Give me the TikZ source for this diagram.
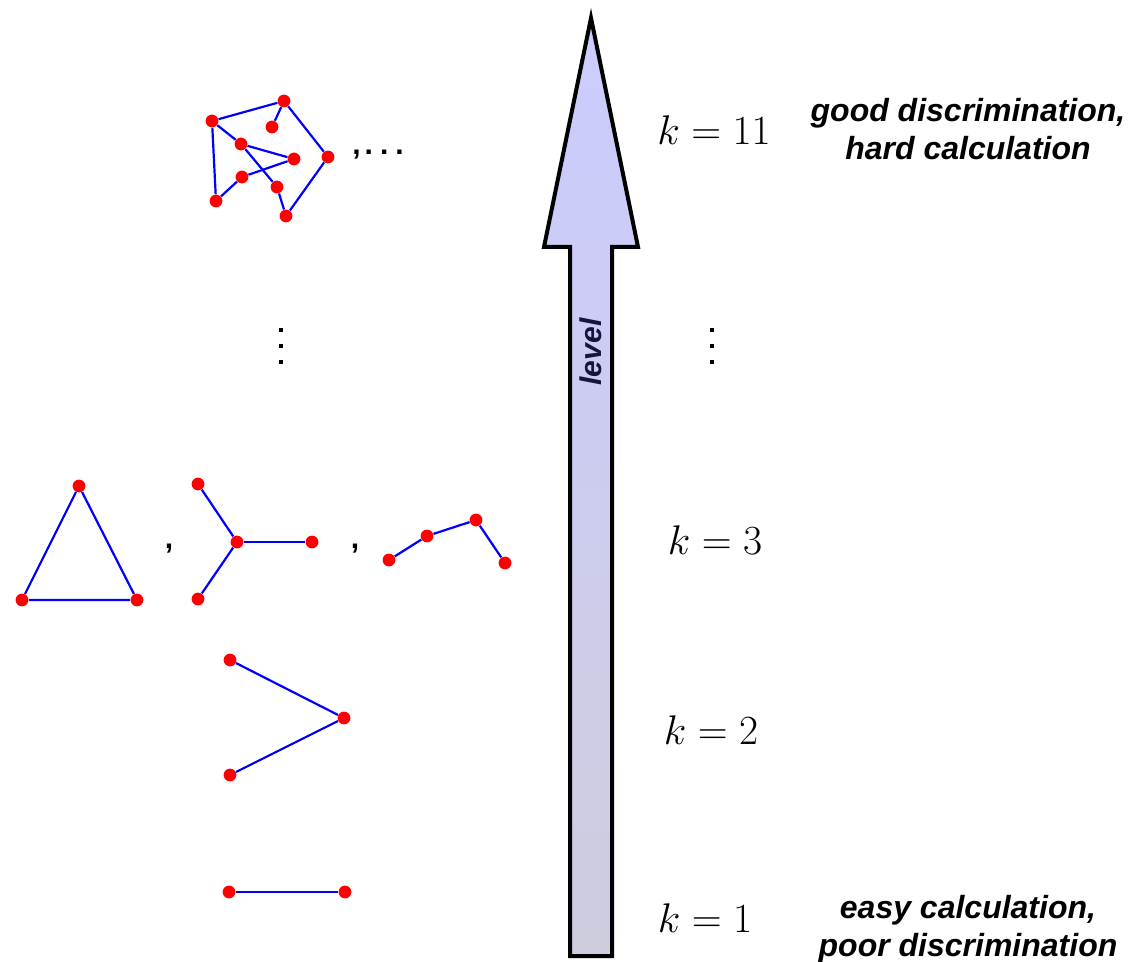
\documentclass[tikz,border=0pt]{standalone}
\usepackage{fontspec}
\usepackage{xcolor}
\newfontfamily\notefont{Liberation Sans}
\usetikzlibrary{positioning}
\definecolor{arrtop}{RGB}{204,204,255}
\definecolor{arrbot}{RGB}{205,205,222}
\definecolor{lvtext}{RGB}{20,20,60}
\newcommand{\sqdots}{\rule{2pt}{2pt}\\\rule{2pt}{2pt}\\\rule{2pt}{2pt}}

\begin{document}
\begin{tikzpicture}[
    x=0.5pt, y=-0.5pt,
    vtx/.style={circle, fill=red, inner sep=0pt, minimum size=6.4pt},
    edge/.style={blue, line width=1.1pt},
    klabel/.style={font=\fontsize{20}{24}\selectfont},
    sep/.style={font=\notefont\bfseries\fontsize{15}{18}\selectfont, inner sep=0pt},
    vsep/.style={font=\fontsize{8}{8}\selectfont, align=center, inner sep=0pt},
    note/.style={font=\notefont\bfseries\itshape\fontsize{16}{19}\selectfont, align=center},
    levelarrow/.style={draw=black, line width=2pt, line join=miter, top color=arrtop, bottom color=arrbot},
  ]
  \useasboundingbox (0,0) rectangle (1145,962);
  % big arrow
  \draw[levelarrow] (591,18) -- (638,247) -- (612,247) -- (612,956) -- (570,956)
    -- (570,247) -- (544,247) -- cycle;
  \node[rotate=90, text=lvtext, font=\notefont\bfseries\itshape\fontsize{15}{18}\selectfont] (lvl) at (591,352) {level};
  % level labels
  \node[klabel] (k11) at (714,130) {$k=11$};
  \node[klabel] (k3) at (715,540) {$k=3$};
  \node[klabel] (k2) at (711,730) {$k=2$};
  \node[klabel] (k1) at (705,918) {$k=1$};
  \node[vsep] (vr) at (712,346) {\sqdots};
  \node[note] (top) at (968,129) {good discrimination,\\hard calculation};
  \node[note] (bot) at (968,929) {easy calculation,\\poor discrimination};
  % k = 1
  \node[vtx] (a1) at (229,892) {};
  \node[vtx] (a2) at (345,892) {};
  \draw[edge] (a1) -- (a2);
  % k = 2
  \node[vtx] (b1) at (230,660) {};
  \node[vtx] (b2) at (344,718) {};
  \node[vtx] (b3) at (230,775) {};
  \draw[edge] (b1) -- (b2) -- (b3);
  % k = 3
  \node[vtx] (t1) at (79,486) {};
  \node[vtx] (t2) at (22,600) {};
  \node[vtx] (t3) at (137,600) {};
  \draw[edge] (t1) -- (t2) -- (t3) -- (t1);
  \node[sep] (c1) at (169,549) {,};
  \node[vtx] (s0) at (237,542) {};
  \node[vtx] (s1) at (198,484) {};
  \node[vtx] (s2) at (312,542) {};
  \node[vtx] (s3) at (198,599) {};
  \foreach \s in {s1,s2,s3} \draw[edge] (s0) -- (\s);
  \node[sep] (c2) at (355,549) {,};
  \node[vtx] (p1) at (389,560) {};
  \node[vtx] (p2) at (427,536) {};
  \node[vtx] (p3) at (476,520) {};
  \node[vtx] (p4) at (505,563) {};
  \draw[edge] (p1) -- (p2) -- (p3) -- (p4);
  \node[vsep] (vl) at (281,346) {\sqdots};
  % k = 11
  \node[vtx] (g1) at (212,121) {};
  \node[vtx] (g2) at (284,101) {};
  \node[vtx] (g3) at (272,127) {};
  \node[vtx] (g4) at (241,144) {};
  \node[vtx] (g5) at (294,159) {};
  \node[vtx] (g6) at (328,157) {};
  \node[vtx] (g7) at (242,177) {};
  \node[vtx] (g8) at (277,187) {};
  \node[vtx] (g9) at (216,201) {};
  \node[vtx] (g10) at (286,216) {};
  \foreach \u/\v in {g1/g2, g2/g3, g2/g6, g1/g4, g1/g9, g4/g5, g4/g8, g5/g7, g7/g9, g8/g10, g6/g10}
    \draw[edge] (\u) -- (\v);
  \node[sep, anchor=base west] (more) at (352,155) {,\kern2pt.\kern3.5pt.\kern3.5pt.};
\end{tikzpicture}
\end{document}
